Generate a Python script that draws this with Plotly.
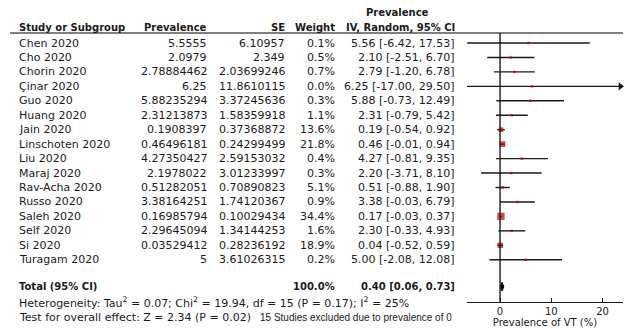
import plotly.graph_objects as go

# ---------------- data ----------------
studies = ["Chen 2020", "Cho 2020", "Chorin 2020", "Çinar 2020", "Guo 2020", "Huang 2020",
           "Jain 2020", "Linschoten 2020", "Liu 2020", "Maraj 2020", "Rav-Acha 2020",
           "Russo 2020", "Saleh 2020", "Self 2020", "Si 2020", "Turagam 2020"]
prevalence = [5.5555, 2.0979, 2.78884462, 6.25, 5.88235294, 2.31213873, 0.1908397,
              0.46496181, 4.27350427, 2.1978022, 0.51282051, 3.38164251, 0.16985794,
              2.29645094, 0.03529412, 5]
se = [6.10957, 2.349, 2.03699246, 11.8610115, 3.37245636, 1.58359918, 0.37368872,
      0.24299499, 2.59153032, 3.01233997, 0.70890823, 1.74120367, 0.10029434,
      1.34144253, 0.28236192, 3.61026315]
weight = [0.1, 0.5, 0.7, 0.0, 0.3, 1.1, 13.6, 21.8, 0.4, 0.3, 5.1, 0.9, 34.4, 1.6, 18.9, 0.2]
total_est, total_lo, total_hi = 0.40, 0.06, 0.73
total_weight = 100.0
x_ticks = [0, 10, 20]
heterogeneity = "Heterogeneity: Tau<sup>2</sup> = 0.07; Chi<sup>2</sup> = 19.94, df = 15 (P = 0.17); I<sup>2</sup> = 25%"
overall = "Test for overall effect: Z = 2.34 (P = 0.02)"
excluded = "15 Studies excluded due to prevalence of 0"
x_title = "Prevalence of VT (%)"

# ---------------- layout constants ----------------
W, H = 627, 329
ROW0_PX, ROW_PX = 43.0, 14.45
X_MIN, X_MAX = -6.45, 24.0
AXIS_PX = 301.7
FONT = "DejaVu Sans"
TXT = "#1a1a1a"
RED = "#c00000"

def px_to_row(p):
    return (p - ROW0_PX) / ROW_PX

def fx(p):
    return p / W

def fy(p):
    return 1 - p / H

lo = [p - 1.96 * s for p, s in zip(prevalence, se)]
hi = [p + 1.96 * s for p, s in zip(prevalence, se)]
rows = list(range(len(studies)))
total_row = px_to_row(286.7)
het_row = px_to_row(302.7)
test_row = px_to_row(317.3)

fig = go.Figure()

# CI lines
lx, ly = [], []
for r, a, b in zip(rows, lo, hi):
    lx += [a, b, None]
    ly += [r, r, None]
fig.add_trace(go.Scatter(x=lx, y=ly, mode="lines", line=dict(color="#1a1a1a", width=1.4),
                         hoverinfo="skip", showlegend=False))

# arrows for CIs beyond the axis
arr_rows = [r for r, b in zip(rows, hi) if b > X_MAX]
fig.add_trace(go.Scatter(x=[X_MAX - 0.5] * len(arr_rows), y=arr_rows, mode="markers",
                         marker=dict(symbol="triangle-right", size=7, color="#1a1a1a"),
                         hoverinfo="skip", showlegend=False, cliponaxis=False))

# point estimates
sizes = [max(2.5, 1.25 * w ** 0.5) for w in weight]
fig.add_trace(go.Scatter(x=prevalence, y=rows, mode="markers",
                         marker=dict(symbol="square", size=sizes, color=RED, line=dict(width=0)),
                         showlegend=False))

# total diamond
dh = 0.3
fig.add_trace(go.Scatter(x=[total_lo, total_est, total_hi, total_est, total_lo],
                         y=[total_row, total_row - dh, total_row, total_row + dh, total_row],
                         mode="lines", fill="toself", fillcolor="#000000",
                         line=dict(color="#000000", width=1), showlegend=False, hoverinfo="skip"))

ann = []

def add_text(xp, row, text, anchor, size=11, bold=False, font=FONT):
    t = f"<b>{text}</b>" if bold else text
    ann.append(dict(x=fx(xp), y=row, xref="paper", yref="y", text=t, showarrow=False,
                    xanchor=anchor, yanchor="middle",
                    font=dict(family=font, size=size, color=TXT)))

# header
hdr_row = px_to_row(27)
add_text(17, hdr_row, "Study or Subgroup", "left", size=10, bold=True)
add_text(209, hdr_row, "Prevalence", "right", size=10, bold=True)
add_text(287, hdr_row, "SE", "right", size=10, bold=True)
add_text(337, hdr_row, "Weight", "right", size=10, bold=True)
add_text(457, hdr_row, "IV, Random, 95% CI", "right", size=10, bold=True)
add_text(398, px_to_row(12.7), "Prevalence", "center", size=10, bold=True)

# rows
for r, s, p, e, w, a, b in zip(rows, studies, prevalence, se, weight, lo, hi):
    add_text(17, r, s, "left")
    add_text(209, r, f"{p:.10g}", "right")
    add_text(287, r, f"{e:.10g}", "right")
    add_text(337, r, f"{w:.1f}%", "right")
    add_text(457, r, f"{p:.2f} [{a:.2f}, {b:.2f}]", "right")

# total
add_text(17, total_row, "Total (95% CI)", "left", size=10, bold=True)
add_text(337, total_row, f"{total_weight:.1f}%", "right", size=10, bold=True)
add_text(457, total_row, f"{total_est:.2f} [{total_lo:.2f}, {total_hi:.2f}]", "right", size=10, bold=True)
add_text(17, het_row, heterogeneity, "left")
add_text(17, test_row, overall, "left")
add_text(258, test_row, excluded, "left", size=10, font="Liberation Sans Narrow, Liberation Sans")

shapes = [
    dict(type="line", xref="paper", yref="paper", x0=fx(10), x1=fx(623), y0=fy(33), y1=fy(33),
         line=dict(color="#555555", width=1.6)),
    dict(type="line", xref="x", yref="paper", x0=0, x1=0, y0=fy(AXIS_PX), y1=fy(33),
         line=dict(color="#1a1a1a", width=1.4)),
]

fig.update_layout(
    width=W, height=H, margin=dict(l=0, r=0, t=0, b=0, autoexpand=False),
    paper_bgcolor="white", plot_bgcolor="white",
    annotations=ann, shapes=shapes,
    xaxis=dict(domain=[fx(467), fx(623)], range=[X_MIN, X_MAX], anchor="free", position=fy(AXIS_PX),
               showgrid=False, zeroline=False, showline=True, linecolor="#1a1a1a", linewidth=1.4,
               ticks="inside", ticklen=4, tickcolor="#1a1a1a", tickvals=x_ticks, automargin=False,
               tickfont=dict(family=FONT, size=10, color=TXT),
               title=dict(text=x_title, font=dict(family=FONT, size=10, color=TXT), standoff=1)),
    yaxis=dict(domain=[0, 1], range=[px_to_row(H), px_to_row(0)], visible=False,
               showgrid=False, zeroline=False, automargin=False),
)

fig.write_html("out.html", config={"displayModeBar": False},
               post_script="document.body.style.margin='0';")
